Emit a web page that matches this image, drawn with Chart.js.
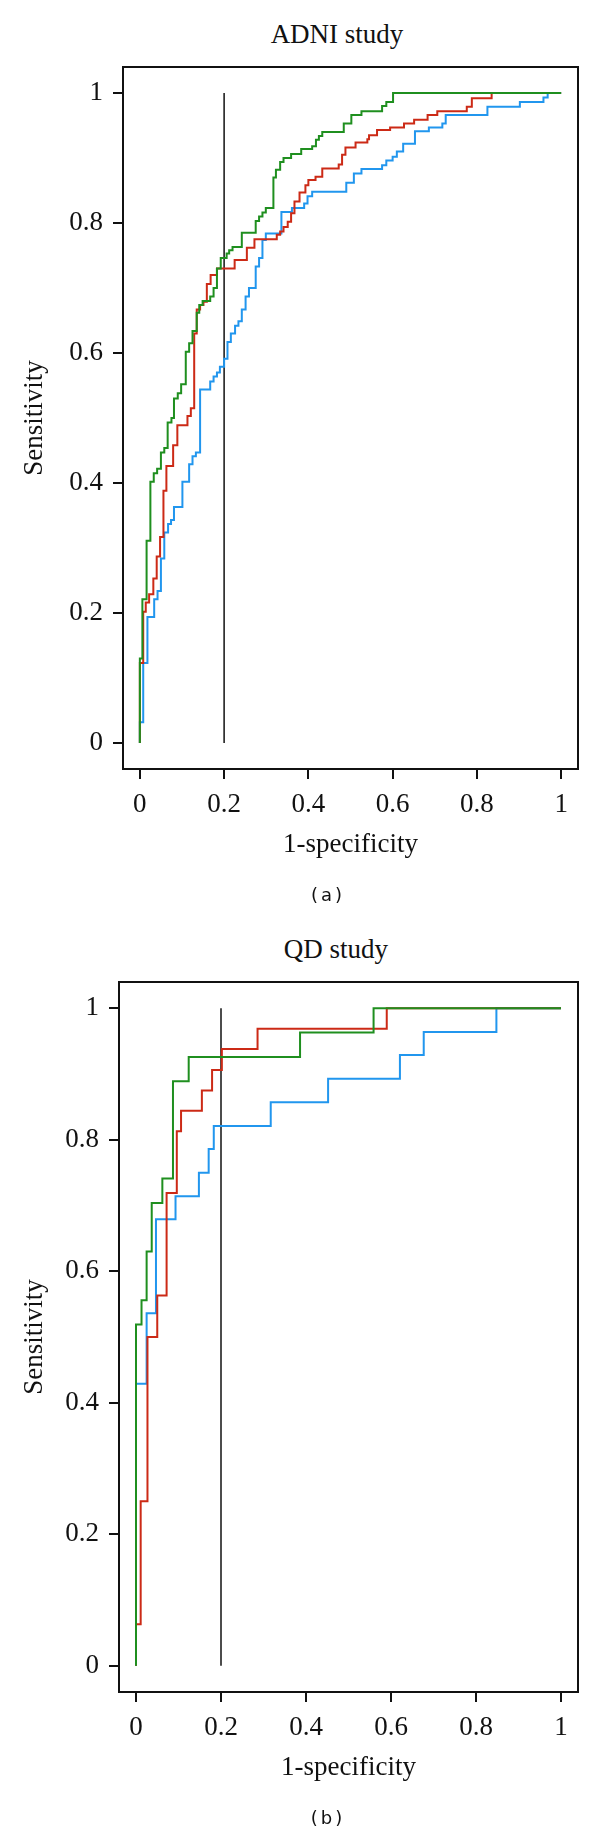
<!DOCTYPE html>
<html>
<head>
<meta charset="utf-8">
<script src="https://cdn.jsdelivr.net/npm/chart.js@4"></script>
<style>
  html, body { margin: 0; padding: 0; background: #fff; }
  body { width: 600px; height: 1834px; position: relative; overflow: hidden; }
  canvas { position: absolute; left: 0; }
  #adni { top: 0; }
  #qd { top: 917px; }
  .title { position: absolute; width: 300px; text-align: center; font-family: "Liberation Serif", serif; font-size: 27px; line-height: 32px; color: #111; }
  .panel { position: absolute; width: 100px; text-align: center; font-family: "DejaVu Sans", sans-serif; font-size: 18px; line-height: 20px; letter-spacing: 3px; color: #111; }
</style>
</head>
<body>
<div class="title" style="left:187px; top:18px;">ADNI study</div>
<canvas id="adni" width="600" height="917"></canvas>
<div class="panel" style="left:278px; top:885px;">(a)</div>
<div class="title" style="left:186px; top:933px;">QD study</div>
<canvas id="qd" width="600" height="917"></canvas>
<div class="panel" style="left:278px; top:1808px;">(b)</div>
<script>
const tickValues = [0, 0.2, 0.4, 0.6, 0.8, 1];
const tickLabels = ['0', '0.2', '0.4', '0.6', '0.8', '1'];

// vertical line at 1-specificity = 0.2
const cutoffX = [0.2, 0.2];
const cutoffY = [0, 1];

// ADNI study, (1-specificity, sensitivity) at each step
const adniGreenX = [0, 0, 0.006, 0.016, 0.025, 0.033, 0.041, 0.05, 0.058, 0.066, 0.075, 0.081, 0.09, 0.098, 0.109, 0.117, 0.125, 0.135, 0.141, 0.149, 0.167, 0.175, 0.183, 0.192, 0.206, 0.212, 0.22, 0.242, 0.275, 0.283, 0.291, 0.299, 0.317, 0.323, 0.333, 0.341, 0.359, 0.383, 0.409, 0.418, 0.425, 0.433, 0.484, 0.502, 0.526, 0.575, 0.585, 0.601, 1];
const adniGreenY = [0, 0.13, 0.221, 0.311, 0.402, 0.415, 0.422, 0.447, 0.454, 0.493, 0.5, 0.53, 0.538, 0.552, 0.602, 0.615, 0.634, 0.662, 0.674, 0.68, 0.687, 0.7, 0.73, 0.746, 0.753, 0.758, 0.763, 0.785, 0.803, 0.81, 0.816, 0.823, 0.87, 0.882, 0.894, 0.9, 0.906, 0.914, 0.918, 0.928, 0.934, 0.94, 0.953, 0.966, 0.972, 0.98, 0.986, 1, 1];
const adniRedX = [0, 0, 0.008, 0.014, 0.022, 0.032, 0.04, 0.048, 0.056, 0.063, 0.079, 0.089, 0.113, 0.121, 0.129, 0.135, 0.143, 0.151, 0.159, 0.168, 0.183, 0.225, 0.254, 0.272, 0.325, 0.333, 0.341, 0.351, 0.359, 0.367, 0.379, 0.393, 0.4, 0.417, 0.433, 0.472, 0.48, 0.488, 0.512, 0.54, 0.544, 0.563, 0.594, 0.627, 0.651, 0.683, 0.706, 0.776, 0.788, 0.835, 1];
const adniRedY = [0, 0.123, 0.202, 0.216, 0.229, 0.253, 0.287, 0.317, 0.388, 0.426, 0.458, 0.489, 0.503, 0.515, 0.63, 0.667, 0.674, 0.679, 0.706, 0.72, 0.73, 0.743, 0.762, 0.775, 0.782, 0.787, 0.794, 0.802, 0.815, 0.833, 0.847, 0.858, 0.866, 0.871, 0.884, 0.89, 0.905, 0.916, 0.924, 0.929, 0.935, 0.943, 0.947, 0.953, 0.959, 0.966, 0.972, 0.979, 0.992, 1, 1];
const adniBlueX = [0, 0, 0.008, 0.018, 0.034, 0.042, 0.05, 0.058, 0.067, 0.074, 0.081, 0.101, 0.117, 0.125, 0.133, 0.143, 0.167, 0.175, 0.183, 0.19, 0.2, 0.208, 0.216, 0.226, 0.234, 0.242, 0.251, 0.259, 0.275, 0.283, 0.291, 0.299, 0.336, 0.361, 0.39, 0.398, 0.409, 0.49, 0.508, 0.526, 0.575, 0.585, 0.6, 0.61, 0.625, 0.653, 0.686, 0.718, 0.726, 0.825, 0.902, 0.958, 0.968, 1];
const adniBlueY = [0, 0.032, 0.123, 0.194, 0.221, 0.234, 0.284, 0.324, 0.337, 0.343, 0.363, 0.402, 0.429, 0.441, 0.447, 0.544, 0.556, 0.564, 0.57, 0.579, 0.591, 0.617, 0.63, 0.642, 0.649, 0.667, 0.687, 0.7, 0.733, 0.746, 0.774, 0.784, 0.817, 0.823, 0.83, 0.841, 0.848, 0.862, 0.876, 0.883, 0.889, 0.896, 0.902, 0.91, 0.922, 0.941, 0.947, 0.953, 0.966, 0.979, 0.986, 0.993, 1, 1];

// QD study
const qdGreenX = [0, 0, 0.013, 0.025, 0.037, 0.062, 0.087, 0.124, 0.386, 0.559, 1];
const qdGreenY = [0, 0.519, 0.556, 0.63, 0.704, 0.741, 0.889, 0.926, 0.963, 1, 1];
const qdRedX = [0, 0, 0.011, 0.027, 0.05, 0.072, 0.096, 0.106, 0.155, 0.179, 0.202, 0.286, 0.59, 1];
const qdRedY = [0, 0.063, 0.25, 0.5, 0.563, 0.719, 0.813, 0.844, 0.875, 0.906, 0.938, 0.969, 1, 1];
const qdBlueX = [0, 0, 0.025, 0.047, 0.093, 0.148, 0.171, 0.183, 0.317, 0.452, 0.621, 0.677, 0.848, 1];
const qdBlueY = [0, 0.429, 0.536, 0.679, 0.714, 0.75, 0.786, 0.821, 0.857, 0.893, 0.929, 0.964, 1, 1];

const GREEN = '#1f8f1f';
const RED = '#cc2a16';
const BLUE = '#2196ee';
const INK = '#111';
const serif = { family: 'Liberation Serif', size: 27 };

function pts(xs, ys) {
  return xs.map((x, i) => ({ x: x, y: ys[i] }));
}

function roc(xs, ys, color) {
  return { data: pts(xs, ys), borderColor: color, borderWidth: 2, stepped: 'before', pointRadius: 0, fill: false };
}

// box around the plot area
const frame = {
  id: 'frame',
  afterDraw(chart) {
    const a = chart.chartArea;
    const ctx = chart.ctx;
    ctx.save();
    ctx.strokeStyle = INK;
    ctx.lineWidth = 2;
    ctx.strokeRect(a.left, a.top, a.right - a.left, a.bottom - a.top);
    ctx.restore();
  }
};

function axis(title, sizeKey, size) {
  return {
    type: 'linear',
    min: -0.04,
    max: 1.04,
    afterBuildTicks: s => { s.ticks = tickValues.map(v => ({ value: v })); },
    afterFit: s => { s[sizeKey] = size; },
    ticks: {
      callback: v => tickLabels[tickValues.indexOf(v)],
      font: serif, color: INK, padding: 10, maxRotation: 0, autoSkip: false
    },
    grid: { drawOnChartArea: false, tickLength: 10, color: INK, lineWidth: 2 },
    border: { display: false },
    title: {
      display: true, text: title, font: serif, color: INK,
      padding: sizeKey === 'height' ? { top: 0, bottom: 4 } : { top: 19, bottom: 0 }
    }
  };
}

function drawRoc(id, curves, yWidth, pad) {
  new Chart(document.getElementById(id), {
    type: 'line',
    data: {
      datasets: [
        roc(curves[0], curves[1], GREEN),
        roc(curves[2], curves[3], RED),
        roc(curves[4], curves[5], BLUE),
        { data: pts(cutoffX, cutoffY), borderColor: INK, borderWidth: 1.5, pointRadius: 0, fill: false }
      ]
    },
    options: {
      responsive: false,
      animation: false,
      layout: { padding: pad },
      plugins: { legend: { display: false }, tooltip: { enabled: false } },
      scales: {
        x: axis('1-specificity', 'height', 96),
        y: axis('Sensitivity', 'width', yWidth)
      }
    },
    plugins: [frame]
  });
}

drawRoc('adni', [adniGreenX, adniGreenY, adniRedX, adniRedY, adniBlueX, adniBlueY], 123, { left: 0, right: 22, top: 67, bottom: 52 });
drawRoc('qd', [qdGreenX, qdGreenY, qdRedX, qdRedY, qdBlueX, qdBlueY], 119, { left: 0, right: 22, top: 65, bottom: 46 });
</script>
</body>
</html>
